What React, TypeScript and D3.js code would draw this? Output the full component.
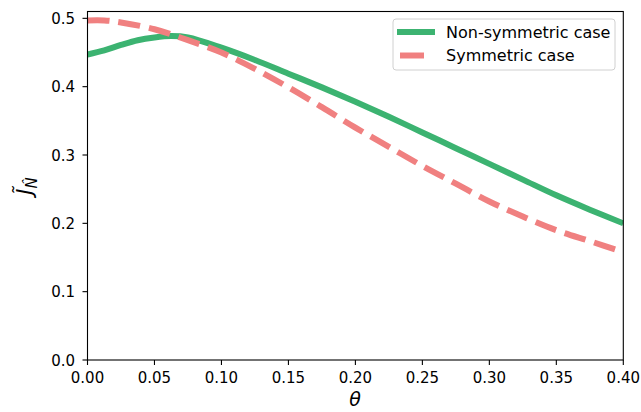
import React from "react";
import * as d3 from "d3";

const thetaNon = [0, 0.0125, 0.025, 0.0375, 0.05, 0.0625, 0.075, 0.1, 0.125, 0.15, 0.175, 0.2, 0.225, 0.25, 0.275, 0.3, 0.325, 0.35, 0.375, 0.4];
const valuesNon = [0.447, 0.453, 0.461, 0.468, 0.472, 0.474, 0.472, 0.457, 0.439, 0.419, 0.399, 0.378, 0.356, 0.333, 0.31, 0.287, 0.264, 0.241, 0.22, 0.2];
const thetaSym = [0, 0.0125, 0.025, 0.05, 0.075, 0.1, 0.125, 0.15, 0.175, 0.2, 0.225, 0.25, 0.275, 0.3, 0.325, 0.35, 0.375, 0.4];
const valuesSym = [0.497, 0.497, 0.494, 0.484, 0.468, 0.45, 0.426, 0.399, 0.37, 0.34, 0.312, 0.284, 0.258, 0.232, 0.21, 0.19, 0.174, 0.158];
const xTicks = [0, 0.05, 0.1, 0.15, 0.2, 0.25, 0.3, 0.35, 0.4];
const yTicks = [0, 0.1, 0.2, 0.3, 0.4, 0.5];
const seriesNames = ["Non-symmetric case", "Symmetric case"];

const W = 641, H = 412;
const L = 87.5, R = 623.3, T = 11.5, B = 360;
const FONT = "DejaVu Sans, sans-serif";

export default function App() {
  const x = d3.scaleLinear().domain([0, 0.4]).range([L, R]);
  const y = d3.scaleLinear().domain([0, 0.51]).range([B, T]);
  const line = d3.line<[number, number]>().x(d => x(d[0])).y(d => y(d[1])).curve(d3.curveCatmullRom.alpha(0.5));
  const nonPts = thetaNon.map((t, i) => [t, valuesNon[i]] as [number, number]);
  const symPts = thetaSym.map((t, i) => [t, valuesSym[i]] as [number, number]);
  const green = "#3cb371";
  const red = "#f08080";
  return (
    <svg width={W} height={H} style={{ position: "absolute", left: 0, top: 0, background: "#fff" }} fontFamily={FONT}>
      <rect x={0} y={0} width={W} height={H} fill="#fff" />
      <defs>
        <clipPath id="plot"><rect x={L} y={T} width={R - L} height={B - T} /></clipPath>
      </defs>
      <g clipPath="url(#plot)">
        <path d={line(nonPts) || ""} fill="none" stroke={green} strokeWidth={6} />
        <path d={line(symPts) || ""} fill="none" stroke={red} strokeWidth={6} strokeDasharray="22 9" />
      </g>
      <rect x={L} y={T} width={R - L} height={B - T} fill="none" stroke="#000" strokeWidth={1.1} />
      {xTicks.map(t => (
        <g key={"x" + t}>
          <line x1={x(t)} x2={x(t)} y1={B} y2={B + 5} stroke="#000" strokeWidth={1.1} />
          <text x={x(t)} y={383} fontSize={15} textAnchor="middle" fill="#000">{t.toFixed(2)}</text>
        </g>
      ))}
      {yTicks.map(t => (
        <g key={"y" + t}>
          <line x1={L - 5} x2={L} y1={y(t)} y2={y(t)} stroke="#000" strokeWidth={1.1} />
          <text x={75} y={y(t) + 5.5} fontSize={15} textAnchor="end" fill="#000">{t.toFixed(1)}</text>
        </g>
      ))}
      <text x={355} y={406} fontSize={19} fontStyle="italic" textAnchor="middle" fill="#000">θ</text>
      <text transform="translate(32,186) rotate(-90)" fontSize={21} textAnchor="middle" fill="#000">
        <tspan fontStyle="italic">{"J\u0303"}</tspan>
        <tspan fontStyle="italic" fontSize={15} dy={5}>{"N\u0302"}</tspan>
      </text>
      <g>
        <rect x={393} y={19} width={222} height={51} rx={3} fill="#fff" fillOpacity={0.8} stroke="#d0d0d0" strokeWidth={1} />
        <line x1={397} x2={435} y1={32} y2={32} stroke={green} strokeWidth={6} />
        <text x={446} y={38} fontSize={16} fill="#000">{seriesNames[0]}</text>
        <line x1={400} x2={424} y1={55.5} y2={55.5} stroke={red} strokeWidth={6} />
        <text x={446} y={61} fontSize={16} fill="#000">{seriesNames[1]}</text>
      </g>
    </svg>
  );
}
